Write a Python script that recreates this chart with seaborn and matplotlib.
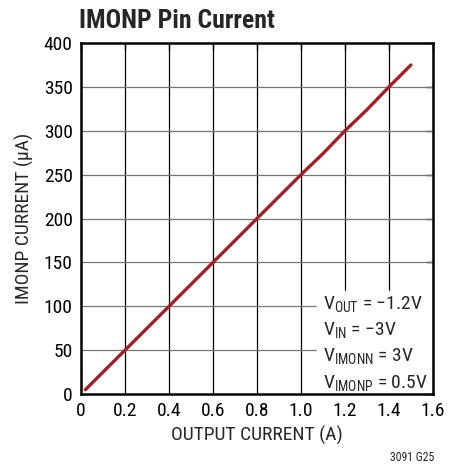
import matplotlib
matplotlib.use("Agg")
import matplotlib.pyplot as plt
import seaborn as sns
import pandas as pd

# data
output_current = [0.02, 0.2, 0.4, 0.6, 0.8, 1.0, 1.1, 1.2, 1.3, 1.4, 1.5]
imonp_current = [5, 50, 100, 150, 200, 250, 274, 300, 324, 350, 375]
x_ticks = [0, 0.2, 0.4, 0.6, 0.8, 1.0, 1.2, 1.4, 1.6]
x_tick_labels = ["0", "0.2", "0.4", "0.6", "0.8", "1.0", "1.2", "1.4", "1.6"]
y_ticks = [0, 50, 100, 150, 200, 250, 300, 350, 400]

df = pd.DataFrame({"iout": output_current, "imonp": imonp_current})

sns.set_style("white")
plt.rcParams["font.family"] = ["Roboto Condensed", "DejaVu Sans"]
plt.rcParams["mathtext.fontset"] = "custom"
plt.rcParams["mathtext.rm"] = "Roboto Condensed"
plt.rcParams["mathtext.default"] = "rm"

fig = plt.figure(figsize=(4.64, 4.68), dpi=100)
ax = fig.add_axes([0.1746, 0.158, 0.7584, 0.750])

sns.lineplot(data=df, x="iout", y="imonp", ax=ax, color="#a31f24", linewidth=2.4, zorder=5)

ax.set_xlim(0, 1.6)
ax.set_ylim(0, 400)
ax.set_xticks(x_ticks)
ax.set_xticklabels(x_tick_labels)
ax.set_yticks(y_ticks)
ax.tick_params(direction="in", length=5, width=1, colors="black", labelsize=14,
               top=True, right=True, pad=6)
for v in x_ticks[1:-1]:
    ax.axvline(v, color="black", linewidth=0.9, zorder=1)
for v in y_ticks[1:-1]:
    ax.axhline(v, color="#777777", linewidth=0.9, zorder=1)
for s in ax.spines.values():
    s.set_linewidth(1.8)
    s.set_color("black")
    s.set_zorder(10)

# white box behind the conditions
ax.fill_between([1.075, 1.6], 0, 118, color="white", zorder=3)

ax.set_xlabel("OUTPUT CURRENT (A)", fontsize=14, labelpad=4)
ax.set_ylabel("IMONP CURRENT (\u00b5A)", fontsize=14, labelpad=7)

cond = ["V$_{OUT}$ = \u22121.2V", "V$_{IN}$ = \u22123V",
        "V$_{IMONN}$ = 3V", "V$_{IMONP}$ = 0.5V"]
for i, t in enumerate(cond):
    ax.text(1.1, 103 - i * 30, t, fontsize=14, va="center", ha="left", zorder=6)

fig.text(0.17, 0.955, "IMONP Pin Current", fontsize=18.5, fontweight="bold", va="center")
fig.text(0.935, 0.014, "3091 G25", fontsize=8.5, ha="right")

fig.savefig("out.png", dpi=100)
